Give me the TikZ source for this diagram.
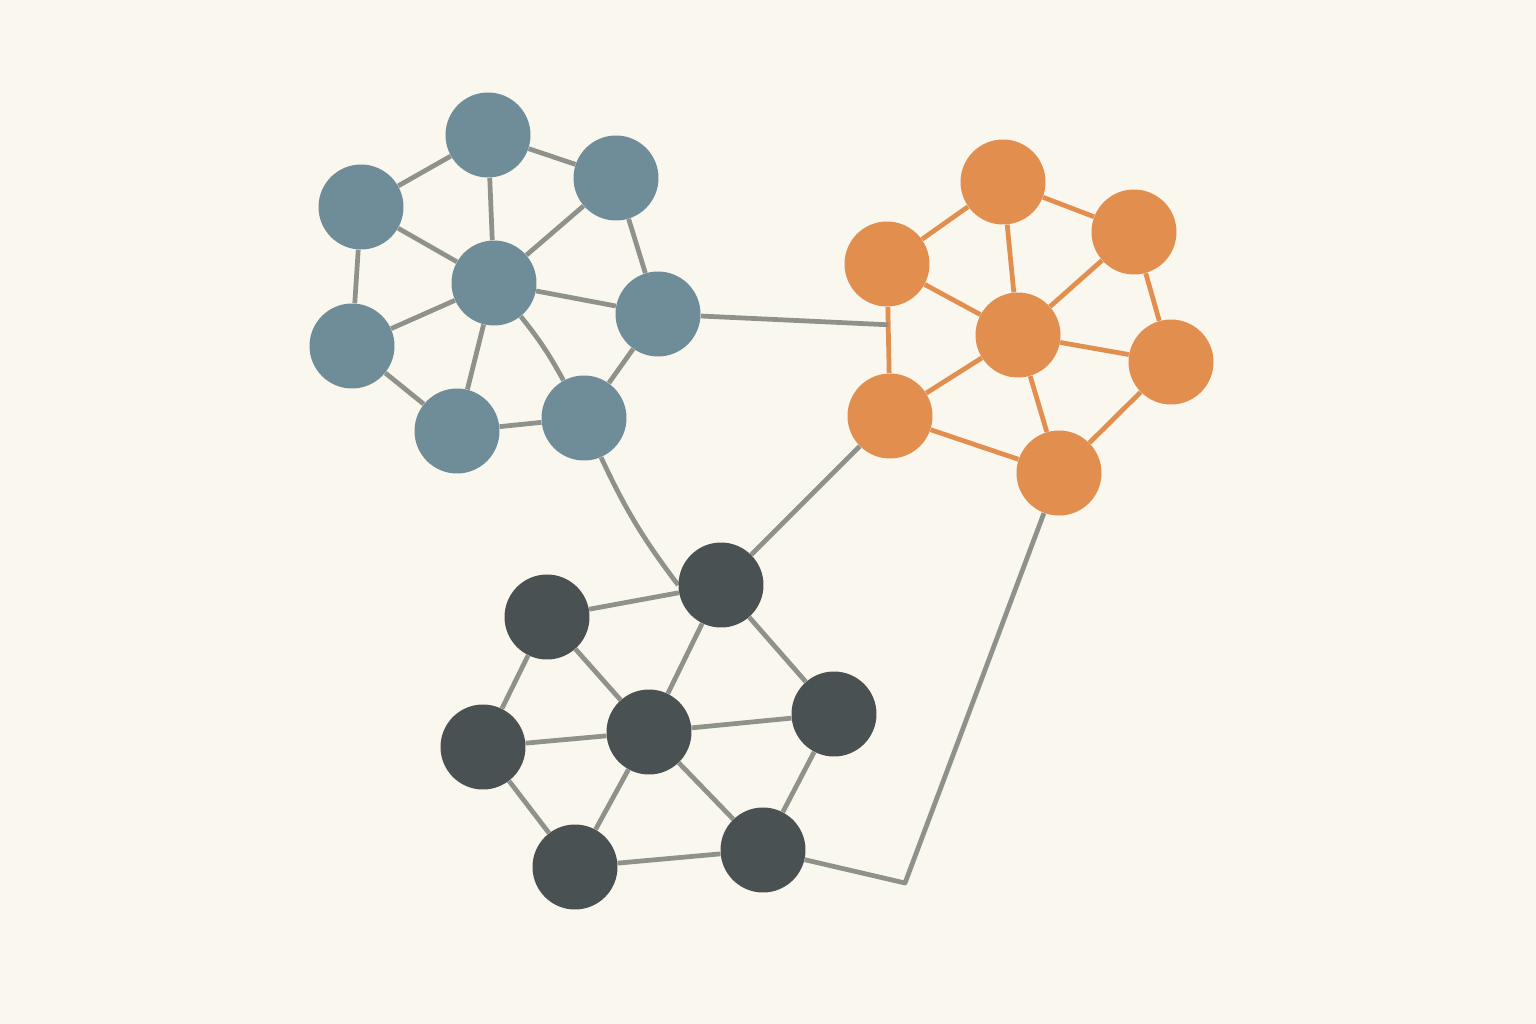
\documentclass[tikz,border=0pt]{standalone}
\usetikzlibrary{backgrounds,calc}
\definecolor{paper}{HTML}{FAF7EE}
\definecolor{slateblue}{HTML}{6F8D99}
\definecolor{amber}{HTML}{E28E4F}
\definecolor{charcoal}{HTML}{4A5152}
\definecolor{wire}{HTML}{8F928B}
\tikzset{
  dot/.style={circle,minimum size=1.7cm,inner sep=0pt},
  bdot/.style={dot,fill=slateblue},
  odot/.style={dot,fill=amber},
  ddot/.style={dot,fill=charcoal},
  link/.style={wire,line width=2.7pt},
  olink/.style={amber,line width=2.7pt}
}
\begin{document}
\begin{tikzpicture}[x=0.02cm,y=-0.02cm]
            \useasboundingbox (0,0) rectangle (1536,1024);
            % blue cluster
            \node[bdot] (b1) at (488,135) {};
            \node[bdot] (b2) at (616,178) {};
            \node[bdot] (b3) at (361,207) {};
            \node[bdot] (b4) at (494,283) {};
            \node[bdot] (b5) at (658,314) {};
            \node[bdot] (b6) at (352,346) {};
            \node[bdot] (b7) at (457,431) {};
            \node[bdot] (b8) at (584,418) {};
            % orange cluster
            \node[odot] (o1) at (1003,182) {};
            \node[odot] (o2) at (1134,232) {};
            \node[odot] (o3) at (887,264) {};
            \node[odot] (o4) at (1018,335) {};
            \node[odot] (o5) at (1171,362) {};
            \node[odot] (o6) at (890,416) {};
            \node[odot] (o7) at (1059,473) {};
            % dark cluster
            \node[ddot] (d1) at (547,617) {};
            \node[ddot] (d2) at (721,585) {};
            \node[ddot] (d3) at (483,747) {};
            \node[ddot] (d4) at (649,732) {};
            \node[ddot] (d5) at (834,714) {};
            \node[ddot] (d6) at (575,867) {};
            \node[ddot] (d7) at (763,850) {};
            \coordinate (joint) at ($(o3)!0.4!(o6)$);
            \coordinate (kink) at (905,883);
            \begin{scope}[on background layer]
            \fill[paper] (0,0) rectangle (1536,1024);
            \draw[link] (b1)--(b3) (b1)--(b2) (b1)--(b4) (b3)--(b4) (b3)--(b6);
            \draw[link] (b2)--(b4) (b2)--(b5) (b4)--(b5) (b4)--(b6) (b4)--(b7);
            \draw[link] (b6)--(b7) (b7)--(b8) (b8)--(b5);
            \draw[link] (b4) to[bend left=5] (b8);
            \draw[olink] (o1)--(o3) (o1)--(o2) (o1)--(o4) (o3)--(o4) (o2)--(o4);
            \draw[olink] (o2)--(o5) (o4)--(o5) (o4)--(o6) (o3)--(o6) (o4)--(o7);
            \draw[olink] (o6)--(o7) (o5)--(o7);
            \draw[link] (d1)--(d2) (d1)--(d3) (d1)--(d4) (d2)--(d4) (d2)--(d5);
            \draw[link] (d3)--(d4) (d4)--(d5) (d3)--(d6) (d4)--(d6) (d4)--(d7);
            \draw[link] (d5)--(d7) (d6)--(d7);
            % between clusters
            \draw[link] (b5)--(joint);
            \draw[link] (b8) to[bend right=6] (d2.west);
            \draw[link] (d2)--(o6);
            \draw[link,line join=round] (d7)--(kink)--(o7);
            \end{scope}
        \end{tikzpicture}
\end{document}
